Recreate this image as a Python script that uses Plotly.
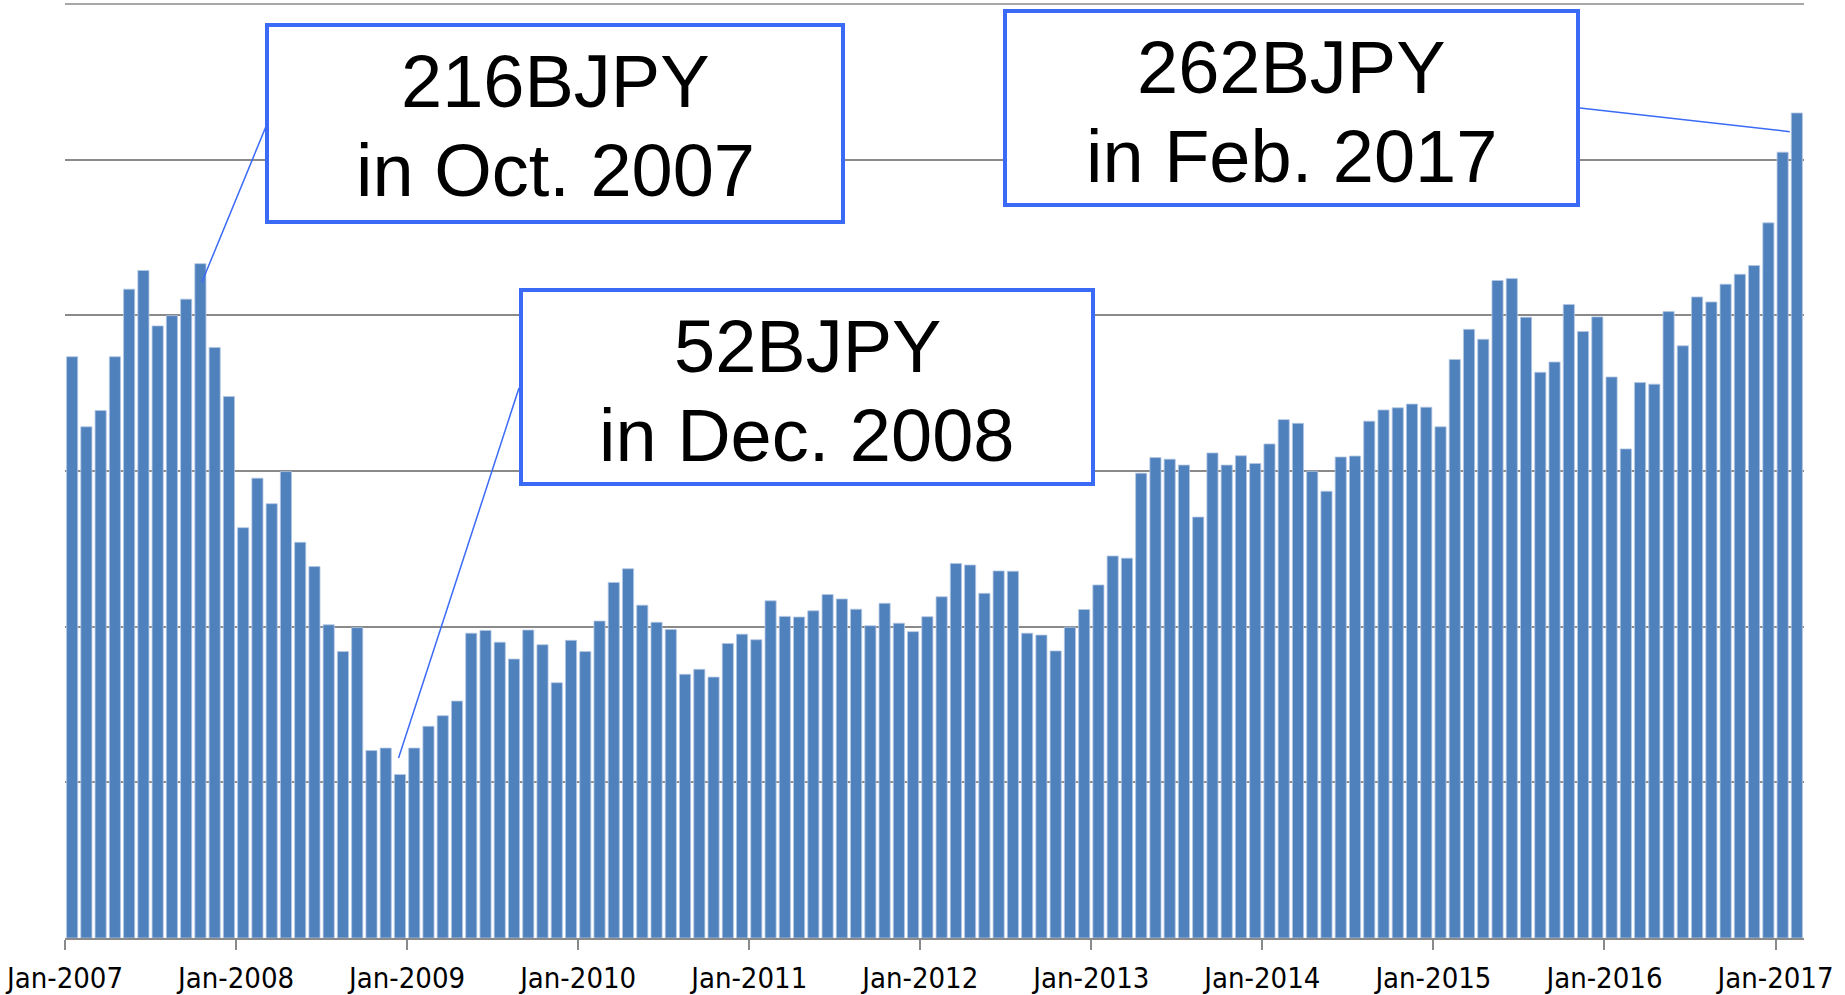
import pandas as pd
import plotly.graph_objects as go

# ---------------- data ----------------
START_MONTH = "2007-01"
VALUES = [
    # 2007
    186.7, 164.2, 169.4, 186.7, 208.4, 214.4, 196.6, 199.9, 205.2, 216.6, 189.7, 173.9,
    # 2008
    131.8, 147.7, 139.5, 149.8, 127.1, 119.3, 100.6, 92.0, 99.7, 60.2, 61.0, 52.5,
    # 2009
    61.0, 68.0, 71.4, 76.1, 97.9, 98.8, 95.0, 89.6, 98.9, 94.2, 82.0, 95.6,
    # 2010
    92.0, 101.8, 114.2, 118.6, 106.9, 101.4, 99.1, 84.7, 86.3, 83.8, 94.6, 97.6,
    # 2011
    95.8, 108.3, 103.3, 103.1, 105.1, 110.3, 108.9, 105.6, 100.3, 107.5, 101.1, 98.4,
    # 2012
    103.2, 109.6, 120.3, 119.8, 110.7, 117.9, 117.8, 97.9, 97.3, 92.2, 99.8, 105.5,
    # 2013
    113.4, 122.7, 122.0, 149.3, 154.3, 153.8, 151.9, 135.2, 155.8, 151.9, 154.9, 152.4,
    # 2014
    158.7, 166.5, 165.3, 149.9, 143.5, 154.5, 154.8, 166.0, 169.6, 170.3, 171.5, 170.5,
    # 2015
    164.2, 185.8, 195.5, 192.3, 211.2, 211.8, 199.4, 181.7, 185.0, 203.5, 194.8, 199.5,
    # 2016
    180.2, 157.1, 178.4, 177.9, 201.2, 190.2, 205.9, 204.3, 210.0, 213.2, 216.0, 229.7,
    # 2017
    252.4, 265.0,
]
TICK_LABELS = ["Jan-2007", "Jan-2008", "Jan-2009", "Jan-2010", "Jan-2011", "Jan-2012",
               "Jan-2013", "Jan-2014", "Jan-2015", "Jan-2016", "Jan-2017"]
CALLOUT_LINE1 = ["216BJPY", "52BJPY", "262BJPY"]
CALLOUT_LINE2 = ["in Oct. 2007", "in Dec. 2008", "in Feb. 2017"]
CALLOUT_MONTH = ["2007-10", "2008-12", "2017-02"]

# ---------------- layout constants ----------------
FIG_W, FIG_H = 1845, 995
ML, MR, MT, MB = 65, 41, 4, 57
PW, PH = FIG_W - ML - MR, FIG_H - MT - MB
YMAX = 300
BAR_COLOR = "#4F81BD"
GRID_COLOR = "#8a8a8a"
BOX_COLOR = "#3A6AF6"

months = pd.date_range(START_MONTH, periods=len(VALUES), freq="MS")
xpos = list(range(len(VALUES)))
XMIN, XMAX = -0.5, len(VALUES) - 0.5

month_keys = [m.strftime("%Y-%m") for m in months]
tickvals = [i - 0.5 + 0.001 for i, m in enumerate(months) if m.month == 1]


def dx(px):
    return XMIN + (px - ML) / PW * (XMAX - XMIN)


def dy(py):
    return (MT + PH - py) / PH * YMAX


fig = go.Figure()
fig.add_trace(go.Bar(
    x=xpos, y=VALUES,
    marker=dict(color=BAR_COLOR, line=dict(color="#b2c7e3", width=0.8)),
    hoverinfo="skip",
))

# top gridline (at the edge of the plot area, which plotly does not draw itself)
shapes = [dict(type="line", xref="paper", yref="paper", x0=0, x1=1, y0=1, y1=1,
               line=dict(color=GRID_COLOR, width=1.5), layer="above")]
annotations = []

# callout boxes (pixel layout), text offsets and leader-line anchors
BOXES = [(267, 25, 843, 222), (521, 290, 1093, 484), (1005, 11, 1578, 205)]
LEADER_START = [(267, 124), (519, 388), (1580, 108)]
LEADER_END_OFFSET = [(0.1, -6.0), (-0.1, 5.3), (-0.5, -6.0)]

for k in range(3):
    x0, y0, x1, y1 = BOXES[k]
    shapes.append(dict(type="rect", xref="x", yref="y", x0=dx(x0), x1=dx(x1),
                       y0=dy(y0), y1=dy(y1), line=dict(color=BOX_COLOR, width=4),
                       fillcolor="white", layer="above"))
    idx = month_keys.index(CALLOUT_MONTH[k])
    ox, oy = LEADER_END_OFFSET[k]
    sx, sy = LEADER_START[k]
    shapes.append(dict(type="line", xref="x", yref="y", x0=dx(sx), y0=dy(sy),
                       x1=idx + ox, y1=VALUES[idx] + oy,
                       line=dict(color=BOX_COLOR, width=1.5), layer="above"))
    cx = (x0 + x1) / 2
    for txt, off in ((CALLOUT_LINE1[k], 56), (CALLOUT_LINE2[k], 145)):
        annotations.append(dict(x=dx(cx), y=dy(y0 + off), xref="x", yref="y",
                                text=txt, showarrow=False, xanchor="center",
                                yanchor="middle",
                                font=dict(family="Liberation Sans, Arial, sans-serif",
                                          size=74, color="black")))

fig.update_layout(
    width=FIG_W, height=FIG_H,
    margin=dict(l=ML, r=MR, t=MT, b=MB, autoexpand=False),
    paper_bgcolor="white", plot_bgcolor="white",
    showlegend=False, bargap=0.22,
    shapes=shapes, annotations=annotations,
    xaxis=dict(range=[XMIN, XMAX], tickmode="array", tickvals=tickvals,
               ticktext=TICK_LABELS, showgrid=False, zeroline=False,
               automargin=False, ticklabeloverflow="allow",
               showline=True, linecolor=GRID_COLOR, linewidth=2,
               ticks="outside", ticklen=10, tickwidth=2, tickcolor=GRID_COLOR,
               ticklabelstandoff=3,
               tickfont=dict(family="DejaVu Sans Condensed, sans-serif",
                             size=29, color="black")),
    yaxis=dict(range=[0, YMAX], tickmode="linear", tick0=0, dtick=50,
               showticklabels=False, showgrid=True, automargin=False,
               gridcolor=GRID_COLOR, gridwidth=1.5, zeroline=False, showline=False,
               ticks=""),
)

fig.write_html("out.html", config={"displayModeBar": False},
               post_script="document.body.style.margin='0';document.body.style.overflow='hidden';")
